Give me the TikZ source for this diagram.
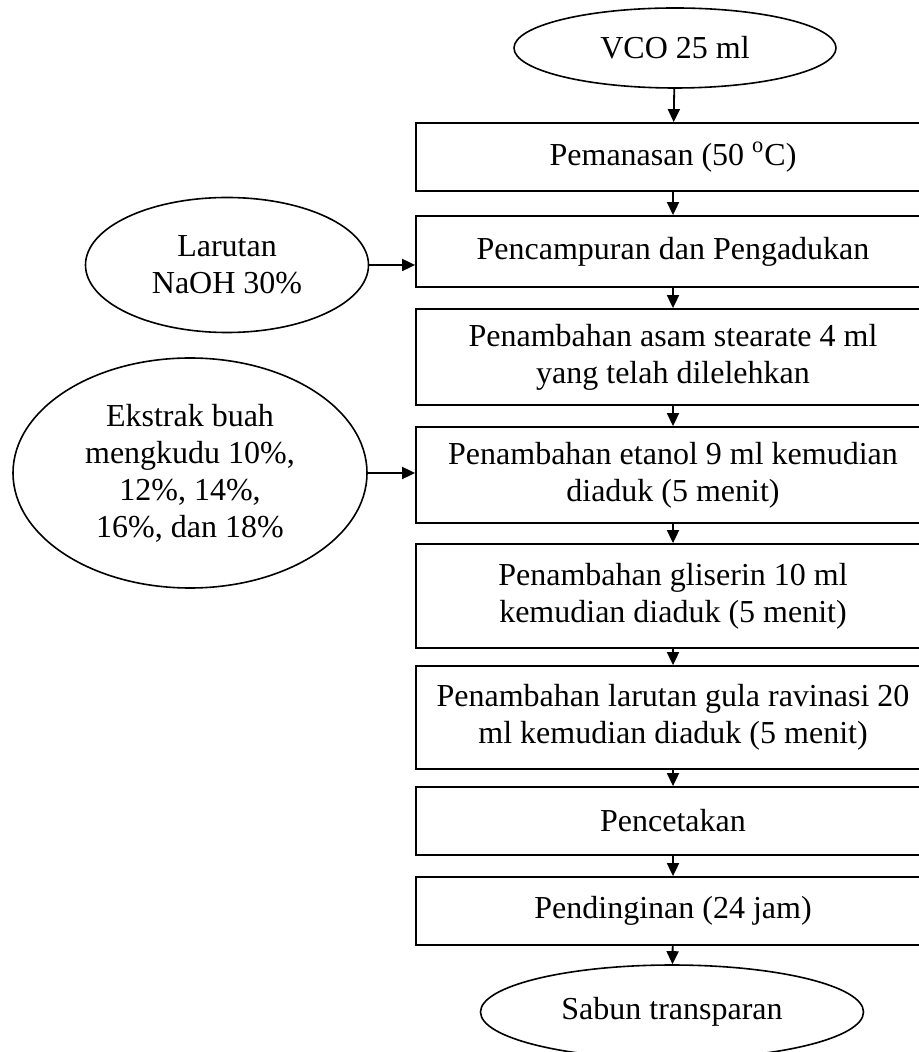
\documentclass[tikz,border=0pt]{standalone}
\usepackage{fontspec}
\setmainfont{Liberation Serif}
\usepackage{tikz}
\usetikzlibrary{arrows.meta,positioning,calc,shapes.geometric}

\begin{document}
\begin{tikzpicture}[>={Triangle[width=6pt,length=6.5pt]},x=0.5pt,y=-0.5pt,
  txt/.style={font=\fontsize{16}{18.5}\selectfont,align=center},
  box/.style={txt,draw,line width=0.9pt,rectangle,minimum width=257pt,inner sep=0pt},
  oval/.style={txt,draw,line width=0.8pt,ellipse,inner sep=0pt},
  ar/.style={->,line width=0.9pt}]
\useasboundingbox (0,0) rectangle (918,1052);
% bahan awal
\node[oval,minimum width=161pt,minimum height=40pt] (vco) at (675,48) {VCO 25 ml};
% tahapan proses
\node[box,minimum height=34pt] (b1) at (673,157) {Pemanasan (50 \textsuperscript{o}C)};
\node[box,minimum height=35.5pt] (b2) at (673,251.5) {Pencampuran dan Pengadukan};
\node[box,minimum height=48pt] (b3) at (673,357) {Penambahan asam stearate 4 ml\\yang telah dilelehkan};
\node[box,minimum height=48pt] (b4) at (673,475) {Penambahan etanol 9 ml kemudian\\diaduk (5 menit)};
\node[box,minimum height=52pt] (b5) at (673,596) {Penambahan gliserin 10 ml\\kemudian diaduk (5 menit)};
\node[box,minimum height=51.5pt] (b6) at (673,717.5) {Penambahan larutan gula ravinasi 20\\ml kemudian diaduk (5 menit)};
\node[box,minimum height=34pt] (b7) at (673,821) {Pencetakan};
\node[box,minimum height=34pt] (b8) at (673,911) {Pendinginan (24 jam)};
% hasil
\node[oval,minimum width=191.5pt,minimum height=47pt] (sabun) at (672,1012) {Sabun transparan};
% bahan tambahan
\node[oval,minimum width=141.5pt,minimum height=67.5pt] (naoh) at (227,265) {Larutan\\NaOH 30\%};
\node[oval,minimum width=177pt,minimum height=115pt] (ekstrak) at (190,473) {Ekstrak buah\\mengkudu 10\%,\\12\%, 14\%,\\16\%, dan 18\%};
\draw[ar] (vco)--(b1); \draw[ar] (b1)--(b2); \draw[ar] (b2)--(b3); \draw[ar] (b3)--(b4);
\draw[ar] (b4)--(b5); \draw[ar] (b5)--(b6); \draw[ar] (b6)--(b7); \draw[ar] (b7)--(b8);
\draw[ar] (b8)--(sabun);
\draw[ar] (naoh.east)--(naoh.east -| b2.west);
\draw[ar] (ekstrak)--(ekstrak -| b4.west);
\end{tikzpicture}
\end{document}
